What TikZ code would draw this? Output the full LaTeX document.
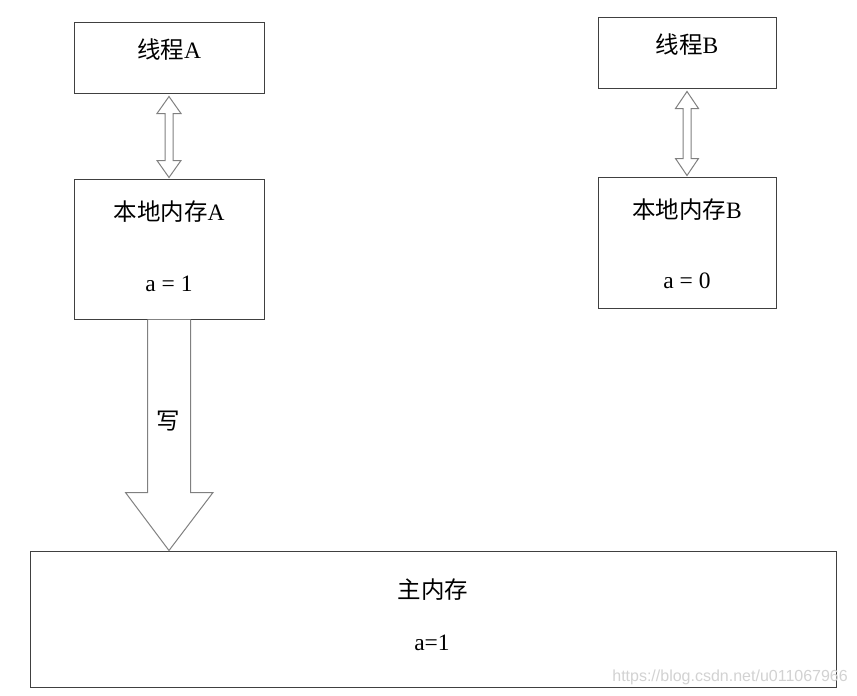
\documentclass[tikz,border=0pt]{standalone}
\usepackage{fontspec}
\setmainfont{Liberation Serif}
\newfontfamily\cjk{Noto Sans CJK SC}
\newfontfamily\wmfont{Liberation Sans}
\usetikzlibrary{calc}
\definecolor{boxline}{RGB}{64,64,64}
\definecolor{arrline}{RGB}{128,128,128}
\definecolor{wmark}{RGB}{210,210,210}
\begin{document}
\begin{tikzpicture}[x=1pt,y=-1pt,
  box/.style={draw=boxline,line width=1pt,rectangle,inner sep=0pt,fill=white},
  lbl/.style={inner sep=0pt,font=\fontsize{23.5}{26}\selectfont},
  blockarrow/.style={draw=arrline,line width=1pt,fill=white,line join=miter}]
\useasboundingbox (0,0) rectangle (857,696);
% boxes
\node[box,minimum width=190pt,minimum height=71pt] (ta) at (169,57.5) {};
\node[box,minimum width=190pt,minimum height=140pt] (la) at (169,249) {};
\node[box,minimum width=178pt,minimum height=71pt] (tb) at (687,52.5) {};
\node[box,minimum width=178pt,minimum height=131pt] (lb) at (687,242.5) {};
\node[box,minimum width=806pt,minimum height=136pt] (mm) at (433,619) {};
% labels
\node[lbl] (tatext) at (169,50) {{\cjk 线程}A};
\node[lbl] (tbtext) at (687,45) {{\cjk 线程}B};
\node[lbl] (latext) at (169,212) {{\cjk 本地内存}A};
\node[lbl] (lava) at (169,284) {a = 1};
\node[lbl] (lbtext) at (687,210) {{\cjk 本地内存}B};
\node[lbl] (lbva) at (687,281) {a = 0};
\node[lbl] (mmtext) at (433,590) {\cjk 主内存};
\node[lbl] (mmva) at (432,643) {a=1};
% double arrow A
\coordinate (a1) at ($(ta.south)+(0,3)$);
\coordinate (a2) at ($(la.north)+(0,-1)$);
\draw[blockarrow] (a1) -- ++(12,17) -- ++(-8,0) |- ($(a2)+(4,-17)$) -- ++(8,0) -- (a2)
  -- ++(-12,-17) -- ++(8,0) |- ($(a1)+(-4,17)$) -- ++(-8,0) -- cycle;
% double arrow B
\coordinate (b1) at ($(tb.south)+(0,3)$);
\coordinate (b2) at ($(lb.north)+(0,-1)$);
\draw[blockarrow] (b1) -- ++(11.5,17) -- ++(-7.5,0) |- ($(b2)+(4,-17)$) -- ++(7.5,0) -- (b2)
  -- ++(-11.5,-17) -- ++(7.5,0) |- ($(b1)+(-4,17)$) -- ++(-7.5,0) -- cycle;
% write arrow
\coordinate (w1) at (la.south);
\coordinate (w2) at (mm.north -| la.south);
\draw[blockarrow] ($(w1)+(-21.5,0)$) -- ($(w2)+(-21.5,-58)$) -- ++(-22,0) -- (w2)
  -- ($(w2)+(44,-58)$) -- ++(-22.5,0) -- ($(w1)+(21.5,0)$);
\node[lbl] (wtext) at (168,421) {\cjk 写};
% watermark
\node[inner sep=0pt,anchor=east,text=wmark,font=\wmfont\fontsize{16}{18}\selectfont] (wm) at (848,677) {https://blog.csdn.net/u011067966};
\end{tikzpicture}
\end{document}
